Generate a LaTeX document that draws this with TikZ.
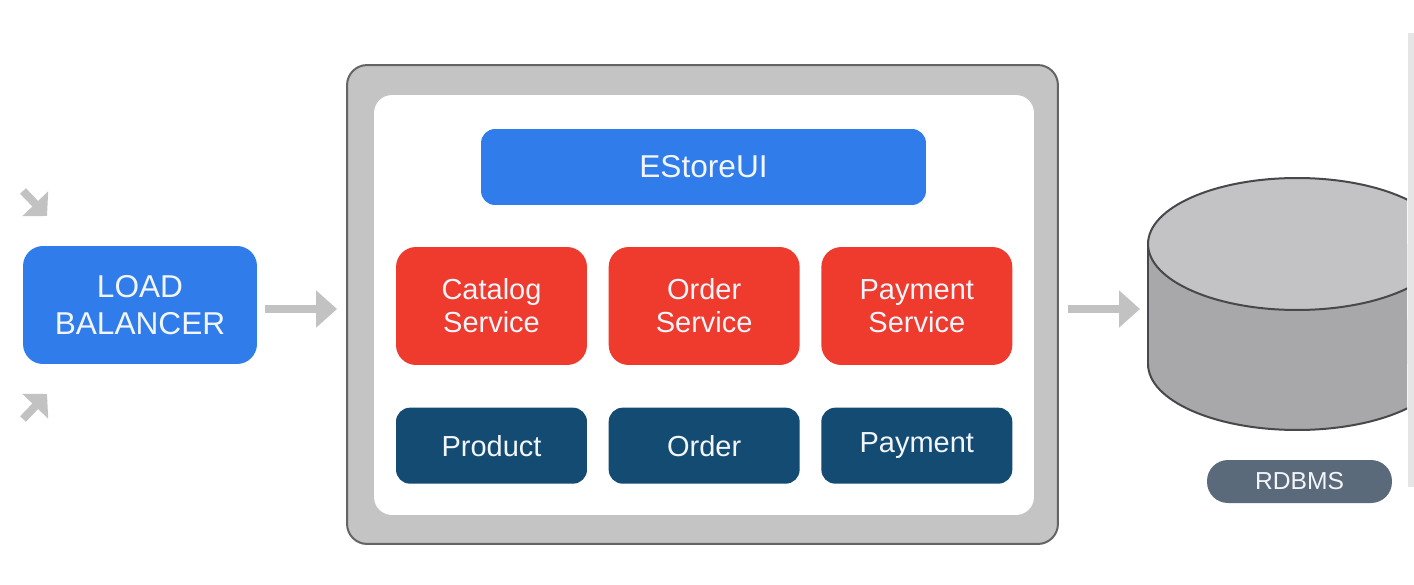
\documentclass[tikz,border=0pt]{standalone}
\usepackage{fontspec}
\setmainfont{Liberation Sans}
\usetikzlibrary{arrows.meta,positioning}
\definecolor{lbblue}{RGB}{47,124,234}
\definecolor{svcred}{RGB}{238,59,46}
\definecolor{dbnavy}{RGB}{19,75,115}
\definecolor{framegrey}{RGB}{196,196,196}
\definecolor{frameline}{RGB}{100,100,100}
\definecolor{flowgrey}{RGB}{194,194,194}
\definecolor{dbtop}{RGB}{195,195,197}
\definecolor{dbside}{RGB}{168,168,170}
\definecolor{dbline}{RGB}{72,72,76}
\definecolor{tagslate}{RGB}{91,106,122}
\definecolor{labelwhite}{RGB}{242,245,250}

\begin{document}
\begin{tikzpicture}[
        x=0.02cm, y=-0.02cm,
        box/.style={rounded corners=0.4cm, inner sep=0pt, align=center, text=labelwhite},
        balancer/.style={box, fill=lbblue, minimum width=4.68cm, minimum height=2.36cm, font=\fontsize{18}{21}\selectfont},
        ui box/.style={box, rounded corners=0.28cm, fill=lbblue, minimum width=8.9cm, minimum height=1.52cm, font=\fontsize{18}{21}\selectfont},
        service/.style={box, fill=svcred, minimum width=3.82cm, minimum height=2.36cm, font=\fontsize{16.5}{18.7}\selectfont},
        table box/.style={box, rounded corners=0.28cm, fill=dbnavy, minimum width=3.82cm, minimum height=1.52cm, font=\fontsize{16.5}{18.7}\selectfont},
        flow/.style={color=flowgrey, line width=0.16cm, -{Triangle[length=0.42cm, width=0.72cm]}},
        flow in/.style={color=flowgrey, line width=0.16cm, -{Triangle[length=0.34cm, width=0.7cm]}},
        db line/.style={draw=dbline, line width=0.04cm}
    ]
    \fill[white] (0,0) rectangle (1414,585);
    \useasboundingbox (0,0) rectangle (1414,585);
    \fill[black!10] (1408,33) rectangle (1414,487);

    \node[balancer] (lb) at (140,305) {LOAD\\BALANCER};
    \coordinate (in top) at (23,191);
    \coordinate (in top tip) at (47,216);
    \coordinate (in bottom) at (23,419);
    \coordinate (in bottom tip) at (47,394);
    \draw[flow in] (in top) -- (in top tip);
    \draw[flow in] (in bottom) -- (in bottom tip);

    \node[draw=frameline, line width=0.04cm, fill=framegrey, rounded corners=0.4cm, inner sep=0pt,
        minimum width=14.22cm, minimum height=9.58cm] (estore) at (702.5,304.5) {};
    \node[fill=white, rounded corners=0.36cm, inner sep=0pt,
        minimum width=13.2cm, minimum height=8.4cm] (inner) at (704,305) {};
    \node[ui box] (ui) at (703.5,167) {EStoreUI};
    \node[service] (catalog) at (491.5,306) {Catalog\\Service};
    \node[service, right=0.42cm of catalog] (ordersvc) {Order\\Service};
    \node[service, right=0.42cm of ordersvc] (paysvc) {Payment\\Service};
    \node[table box, below=0.84cm of catalog] (product) {Product};
    \node[table box, below=0.84cm of ordersvc] (orderdb) {Order};
    \node[table box, below=0.84cm of paysvc] (paydb) {Payment};

    \begin{scope}
        \clip (1100,150) rectangle (1407,450);
        \fill[dbside] (1148,244) rectangle (1446,364);
        \fill[dbside] (1297,364) ellipse [x radius=2.98cm, y radius=1.32cm];
        \begin{scope}
            \clip (1100,364) rectangle (1410,440);
            \draw[db line] (1297,364) ellipse [x radius=2.98cm, y radius=1.32cm];
        \end{scope}
        \draw[db line] (1148,244) -- (1148,364);
        \draw[db line, fill=dbtop] (1297,244) ellipse [x radius=2.98cm, y radius=1.32cm];
    \end{scope}
    \coordinate (db left) at (1148,309);
    \node[box, rounded corners=0.42cm, fill=tagslate, minimum width=3.7cm, minimum height=0.86cm,
        font=\fontsize{14}{16}\selectfont] (rdbms) at (1299.5,481.5) {RDBMS};

    \draw[flow, shorten <=0.16cm, shorten >=0.18cm] ([yshift=-0.08cm]lb.east) -- ([yshift=-0.08cm]lb.east -| estore.west);
    \draw[flow, shorten <=0.18cm, shorten >=0.16cm] (estore.east |- db left) -- (db left);
\end{tikzpicture}
\end{document}
